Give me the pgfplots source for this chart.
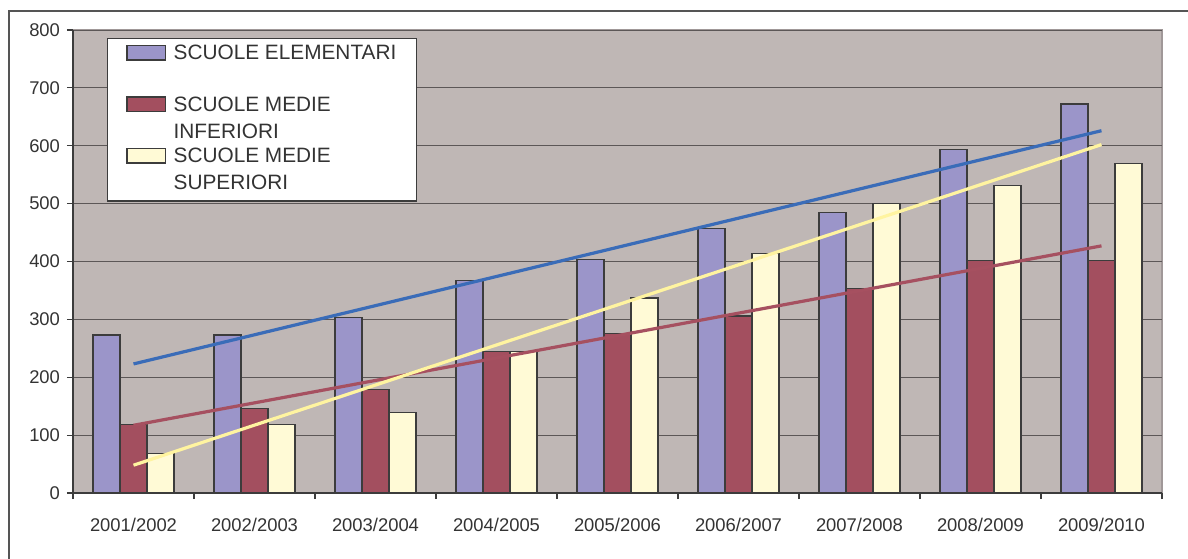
\documentclass[border=0pt]{standalone}
\usepackage{fontspec}
\setmainfont{Liberation Sans}
\usepackage{pgfplots}
\pgfplotsset{compat=1.18}

\definecolor{plotbg}{RGB}{191,183,181}
\definecolor{elem}{RGB}{155,149,201}
\definecolor{inf}{RGB}{163,79,95}
\definecolor{sup}{RGB}{255,250,214}
\definecolor{trendblue}{RGB}{58,108,184}
\definecolor{trendred}{RGB}{166,80,96}
\definecolor{trendyellow}{RGB}{255,244,160}
\definecolor{gridgray}{RGB}{92,87,87}
\definecolor{edge}{RGB}{60,60,60}
\definecolor{txt}{RGB}{51,51,51}
\definecolor{framecol}{RGB}{85,85,85}
\definecolor{areaborder}{RGB}{160,152,152}

% legend text: first line on the baseline, rest hangs below
\newcommand{\leg}[1]{\smash{\parbox[t]{112bp}{#1}}}

\begin{document}
\begin{tikzpicture}
\begin{axis}[
  at={(0,0)}, anchor=south west,
  scale only axis, width=544.5bp, height=231.5bp,
  xmin=0.5, xmax=9.5, ymin=0, ymax=800,
  axis background/.style={fill=plotbg, draw=areaborder, line width=0.8bp},
  axis x line*=bottom, axis y line*=left,
  axis line style={edge, line width=0.6bp},
  ytick={0,100,200,300,400,500,600,700,800},
  minor ytick={0,100,200,300,400,500,600,700,800},
  xtick={1,2,3,4,5,6,7,8,9},
  xticklabels={2001/2002,2002/2003,2003/2004,2004/2005,2005/2006,2006/2007,2007/2008,2008/2009,2009/2010},
  minor xtick={0.5,1.5,2.5,3.5,4.5,5.5,6.5,7.5,8.5,9.5},
  major tick length=0pt, minor tick length=3bp,
  tick align=outside,
  tick style={edge, line width=0.6bp},
  ymajorgrids,
  grid style={gridgray, line width=0.5bp},
  /pgf/number format/assume math mode=true,
  xticklabel style={font={\fontsize{9.2bp}{11bp}\selectfont}, text=txt, yshift=-9bp},
  yticklabel style={font={\fontsize{9.2bp}{11bp}\selectfont}, text=txt, xshift=-3bp},
  legend style={at={(0.0312,0.983)}, anchor=north west, draw=edge, line width=0.6bp,
    fill=white, inner xsep=9.35bp, inner ysep=2bp, row sep=0pt, column sep=3.7bp,
    font={\fontsize{10.4bp}{13.5bp}\selectfont}, text=txt,
    nodes={inner sep=0pt, text height=8.75bp, text depth=17bp}, cells={anchor=base west}},
  legend image code/.code={\draw[#1, line width=0.7bp] (0bp,0bp) rectangle (19.3bp,7.25bp);},
]
\addplot[ybar, bar width=13.5bp, bar shift=-13.5bp, fill=elem, draw=edge, line width=0.6bp]
  coordinates {(1,273) (2,273) (3,303) (4,367) (5,404) (6,457) (7,484) (8,594) (9,672)};
\addlegendentry{\leg{SCUOLE ELEMENTARI}}
\addplot[ybar, bar width=13.5bp, bar shift=0bp, fill=inf, draw=edge, line width=0.6bp]
  coordinates {(1,119) (2,146) (3,179) (4,245) (5,276) (6,306) (7,353) (8,402) (9,402)};
\addlegendentry{\leg{SCUOLE MEDIE\\INFERIORI}}
\addplot[ybar, bar width=13.5bp, bar shift=13.5bp, fill=sup, draw=edge, line width=0.6bp]
  coordinates {(1,68) (2,119) (3,139) (4,244) (5,337) (6,414) (7,500) (8,531) (9,570)};
\addlegendentry{\leg{SCUOLE MEDIE\\SUPERIORI}}
% linear trend lines
\addplot[trendblue, line width=1.6bp, forget plot] coordinates {(1,223) (9,626)};
\addplot[trendred, line width=1.6bp, forget plot] coordinates {(1,117) (9,427)};
\addplot[trendyellow, line width=1.6bp, forget plot] coordinates {(1,48) (9,602)};
\end{axis}
\pgfresetboundingbox
\path[use as bounding box] (-36.5bp,-33bp) rectangle (557.5bp,246.5bp);
\draw[framecol, line width=1bp] (-32bp,-33bp) -- (-32bp,241bp) -- (557.5bp,241bp);
\end{tikzpicture}
\end{document}
